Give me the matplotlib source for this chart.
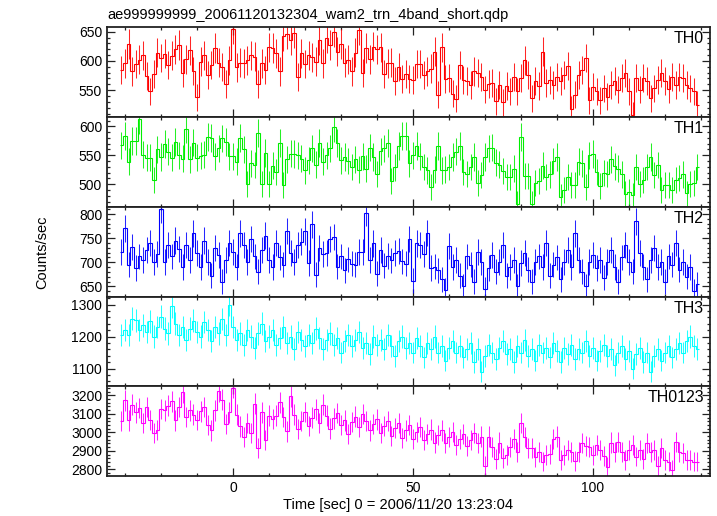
import numpy as np
import matplotlib
matplotlib.use('Agg')
import matplotlib.pyplot as plt
from matplotlib.ticker import MultipleLocator

plt.rcParams['font.family'] = ['Liberation Sans', 'DejaVu Sans']

# light curves, 1 s bins starting at t = -31 s (counts/sec)
th0 = [585, 596, 629, 582, 595, 602, 610, 574, 548, 578,
       614, 605, 612, 593, 609, 620, 627, 580, 603, 618,
       583, 538, 599, 610, 576, 593, 622, 597, 590, 561,
       601, 654,
       589, 597, 596, 601, 610, 607, 561, 596, 584, 623,
       622, 613, 582, 643, 646, 635, 647, 572, 613, 595,
       610, 606, 599, 635, 596, 639, 627, 650, 616, 629,
       597, 602, 582, 614, 653, 580, 622, 603, 624, 620,
       623, 578, 596, 597, 565, 590, 569, 578,
       569, 568, 595, 595, 576, 582, 587, 616, 542, 623,
       569, 570, 544, 535, 593, 568, 565, 559, 582, 579,
       572, 551, 561, 562, 531, 559, 529, 557, 548, 573,
       548, 570, 601, 576, 536, 565, 557, 616, 562, 568,
       559, 573, 565, 576, 591, 517, 542, 576, 585, 605,
       533, 556, 548, 533, 553, 539, 559, 566, 551, 570,
       580, 548, 508, 570, 551, 570, 565, 536, 553, 568,
       579, 565, 552, 573, 559, 573, 570, 559, 553, 548,
       525]

th1 = [567, 583, 539, 575, 575, 612, 551, 546, 546, 508,
       560, 547, 569, 556, 546, 573, 550, 544, 595, 543,
       572, 546, 549, 551, 582, 580, 548, 562, 579, 573,
       548, 548, 539, 580, 560, 501, 536, 533, 589, 501,
       554, 501, 532, 521, 571, 498, 543, 553, 552, 550,
       544, 524, 541, 562, 534, 571, 539, 550, 562, 598,
       571, 541, 547, 540, 530, 543, 525, 548, 527, 563,
       547, 518, 557, 562, 571, 506, 529, 566, 583, 583,
       536, 550, 566, 548, 530, 524, 495, 525, 566, 524,
       525, 530, 547, 556, 566, 521, 518, 530, 547, 502,
       516, 547, 562, 563, 537, 534, 523, 512, 513, 527,
       466, 582, 514, 514, 466, 502, 506, 532, 513, 517,
       540, 547, 478, 490, 513, 498, 498, 539, 536, 495,
       550, 552, 521, 497, 519, 518, 543, 531, 527, 517,
       483, 487, 481, 530, 501, 507, 530, 547, 516, 533,
       490, 498, 498, 490, 507, 510, 517, 484, 501, 502,
       530]

th2 = [722, 770, 695, 732, 688, 712,
       705, 725, 740, 700, 718, 810, 700, 735, 712, 745,
       728, 690, 735, 705, 760, 720, 690, 745, 700, 672,
       730, 715, 660, 705, 740, 722, 690, 760, 735, 700,
       748, 712, 680, 725, 755, 705, 690, 740, 710, 695,
       765, 720, 700, 735,
       743, 764, 698, 779, 674, 730, 717, 719, 748, 752,
       691, 712, 683, 706, 697, 695, 722, 722, 803, 705,
       739, 676, 726, 693, 713, 704, 720, 724, 702, 697,
       748, 662, 739, 736, 717, 761, 688, 691, 683, 665,
       642, 733,
       690, 705, 672, 650, 712, 695, 660, 722, 700, 645,
       688, 715, 680, 700, 735, 672, 690, 705, 650, 698,
       720, 685, 660, 700, 712, 690, 740, 672, 695, 710,
       665, 700, 725, 690, 760, 705, 680, 650, 700, 715,
       688, 705, 668, 700, 725, 690, 660, 710, 735, 700,
       680, 785, 720, 690, 665, 705, 730, 690, 700, 660,
       712, 695, 740, 685, 700, 670, 690, 640, 655]

th3 = [1205, 1220, 1205, 1256, 1251, 1220,
       1235, 1215, 1248, 1200, 1230, 1262, 1225, 1210, 1295, 1240,
       1205, 1230, 1190, 1225, 1250, 1215, 1200, 1245, 1220, 1185,
       1230, 1210, 1255, 1205, 1300, 1230, 1190, 1210, 1175, 1220,
       1200, 1165, 1210, 1240, 1185, 1200, 1220, 1175, 1195, 1230,
       1180, 1200, 1160, 1215, 1190, 1170, 1205, 1180, 1225, 1195,
       1160, 1190, 1210, 1175, 1195, 1150, 1185, 1205, 1170, 1190,
       1215, 1165, 1180, 1145, 1200, 1175, 1190, 1160, 1205, 1170,
       1140, 1185, 1200, 1165, 1180, 1150, 1195, 1170, 1135, 1180,
       1160, 1200, 1150, 1170, 1125, 1165, 1185, 1150, 1170, 1135,
       1160, 1180, 1120, 1160, 1090, 1140, 1175, 1150, 1130, 1165,
       1185, 1145, 1160, 1120, 1170, 1150, 1190, 1140, 1160, 1125,
       1175, 1150, 1165, 1135, 1180, 1155, 1120, 1165, 1145, 1175,
       1130, 1160, 1150, 1185, 1140, 1165, 1125, 1155, 1175, 1140,
       1160, 1110, 1150, 1170, 1130, 1155, 1100, 1145, 1165, 1120,
       1150, 1090, 1140, 1160, 1125, 1150, 1170, 1135, 1160, 1180,
       1150, 1185, 1200, 1170, 1160]

th0123 = [3062, 3173, 3064, 3149, 3108, 3131, 3050, 3137, 3068, 2996,
          3014, 3126, 3119, 3144, 3168, 3064, 3137, 3216, 3082, 3119,
          3095, 3068, 3113, 3137, 3041, 3010, 3119, 3222, 3177, 3046,
          3108, 3240, 3095, 3032, 2974, 3050, 2996, 3155, 2914, 3108,
          2959, 3090, 3072, 3090, 3162, 3082, 3005, 3195, 3095, 3017,
          3060, 3110, 3035, 3080, 3125, 3050, 3150, 3090, 3020, 3075,
          3105, 3040, 3065, 2990, 3055, 3085, 3030, 3100, 3060, 3010,
          3045, 3070, 2995, 3035, 3060, 2980, 3025, 3050, 2970, 3010,
          3040, 2965, 3000, 3030, 2960, 2990, 3015, 2945, 2985, 3010,
          2940, 2975, 3000, 2930, 2965, 2990, 2925, 2960, 2995, 2940,
          2977, 2818, 2977, 2923, 2854, 2945, 2860, 2878, 2923,
          2963, 2896, 3050, 2974, 2914, 2914, 2865, 2896, 2842, 2878,
          2883, 2963, 2977, 2851,
          2878, 2905, 2896, 2847, 2896, 2941, 2927, 2923, 2878, 2932,
          2905, 2872, 2811, 2945,
          2896, 2950, 2896, 2851, 2905, 2932, 2869, 2905, 2854, 2941,
          2896, 2905, 2818, 2914,
          2851, 2842, 2796, 2950, 2896, 2890, 2851, 2851, 2842, 2842]

names = ['TH0', 'TH1', 'TH2', 'TH3', 'TH0123']
series = [th0, th1, th2, th3, th0123]
colors = ['#ff0000', '#00ee00', '#0000ff', '#00ffff', '#ff00ff']
ylims = [(504, 657.5), (461, 616), (629, 815), (1045, 1325), (2764, 3249)]
ymajor = [50, 50, 50, 100, 100]
yminor = [10, 10, 10, 20, 20]
t0 = -31

fig = plt.figure(figsize=(7.17, 5.16), dpi=100)
axes = fig.subplots(5, 1, sharex=True)
fig.subplots_adjust(left=107/717, right=710/717, top=1-27.3/516,
                    bottom=1-476/516, hspace=0)

for i, ax in enumerate(axes):
    y = np.array(series[i], dtype=float)
    t = t0 + np.arange(len(y))
    edges = np.append(t - 0.5, t[-1] + 0.5)
    err = np.sqrt(y)  # poisson errors for 1 s bins
    ax.stairs(y, edges, baseline=None, color=colors[i], lw=0.8)
    ax.errorbar(t, y, yerr=err, fmt='none', ecolor=colors[i], elinewidth=0.75,
                alpha=0.85)
    ax.set_ylim(*ylims[i])
    ax.set_xlim(-35, 132.5)
    ax.yaxis.set_major_locator(MultipleLocator(ymajor[i]))
    ax.yaxis.set_minor_locator(MultipleLocator(yminor[i]))
    ax.xaxis.set_major_locator(MultipleLocator(50))
    ax.xaxis.set_minor_locator(MultipleLocator(10))
    ax.tick_params(which='both', direction='in', top=True, right=True,
                   labelsize=10, width=0.9, colors='#222222', labelcolor='black')
    ax.tick_params(which='major', length=5.5)
    ax.tick_params(which='minor', length=2.5)
    for s in ax.spines.values():
        s.set_linewidth(1.3)
        s.set_color('#222222')
    ax.text(0.99, 0.955, names[i], transform=ax.transAxes, ha='right',
            va='top', fontsize=11.5)

fig.text(107/717, 1-15/516, 'ae999999999_20061120132304_wam2_trn_4band_short.qdp',
         ha='left', va='center', fontsize=10.5)
fig.text(42/717, 1-252/516, 'Counts/sec', rotation=90, ha='center',
         va='center', fontsize=10.5)
fig.text(398/717, 1-505/516, 'Time [sec] 0 = 2006/11/20 13:23:04',
         ha='center', va='center', fontsize=10.5)

fig.savefig('out.png', dpi=100)
